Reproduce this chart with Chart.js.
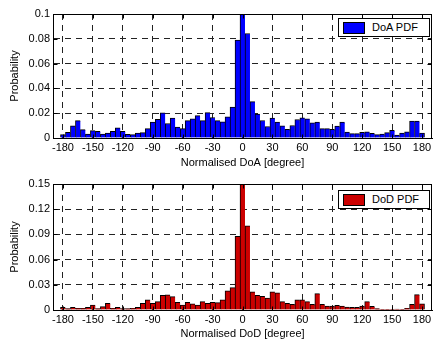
<!DOCTYPE html>
<html>
<head>
<meta charset="utf-8">
<script src="https://cdn.jsdelivr.net/npm/chart.js@4.4.0/dist/chart.umd.min.js"></script>
<style>
  html, body { margin: 0; padding: 0; background: #fff; }
  #wrap { position: relative; width: 437px; height: 341px; font-family: "Liberation Sans", Arial, sans-serif; }
  canvas { position: absolute; left: 0; }
  .legend { position: absolute; box-sizing: border-box; width: 92px; height: 19px; border: 1px solid #000; background: #fff; }
  .legend .swatch { position: absolute; left: 4px; top: 3px; width: 22px; height: 12px; box-sizing: border-box; border: 1px solid #000; }
  .legend .text { position: absolute; left: 33px; top: 0; line-height: 17px; font-size: 11px; color: #000; white-space: nowrap; }
</style>
</head>
<body>
<div id="wrap">
  <canvas id="doaChart" width="437" height="170" style="top:0px"></canvas>
  <canvas id="dodChart" width="437" height="171" style="top:170px"></canvas>
</div>
<script>
// bin centres (degree)
const degrees = [
  -180, -175, -170, -165, -160, -155, -150, -145, -140, -135, -130, -125,
  -120, -115, -110, -105, -100, -95, -90, -85, -80, -75, -70, -65,
  -60, -55, -50, -45, -40, -35, -30, -25, -20, -15, -10, -5,
  0, 5, 10, 15, 20, 25, 30, 35, 40, 45, 50, 55,
  60, 65, 70, 75, 80, 85, 90, 95, 100, 105, 110, 115,
  120, 125, 130, 135, 140, 145, 150, 155, 160, 165, 170, 175, 180
];

// DoA probability per bin
const doaPdf = [
  0.0027, 0.0045, 0.0099, 0.0140, 0.0067, 0.0032, 0.0060, 0.0053, 0.0032, 0.0040, 0.0053, 0.0083,
  0.0053, 0.0030, 0.0027, 0.0040, 0.0043, 0.0075, 0.0128, 0.0150, 0.0203, 0.0117, 0.0160, 0.0088,
  0.0075, 0.0140, 0.0155, 0.0180, 0.0140, 0.0205, 0.0165, 0.0140, 0.0130, 0.0170, 0.0250, 0.0790,
  0.1000, 0.0843, 0.0293, 0.0192, 0.0141, 0.0093, 0.0160, 0.0128, 0.0099, 0.0069, 0.0101, 0.0149,
  0.0163, 0.0155, 0.0123, 0.0128, 0.0075, 0.0075, 0.0069, 0.0096, 0.0128, 0.0048, 0.0035, 0.0035,
  0.0045, 0.0050, 0.0037, 0.0027, 0.0032, 0.0043, 0.0061, 0.0024, 0.0040, 0.0050, 0.0136, 0.0136, 0.0040
];

// DoD probability per bin
const dodPdf = [
  0.0032, 0.0016, 0.0032, 0.0020, 0.0020, 0.0032, 0.0060, 0.0016, 0.0040, 0.0080, 0.0020, 0.0032,
  0.0016, 0.0016, 0.0020, 0.0032, 0.0080, 0.0120, 0.0080, 0.0100, 0.0175, 0.0180, 0.0160, 0.0092,
  0.0060, 0.0092, 0.0072, 0.0060, 0.0100, 0.0080, 0.0092, 0.0088, 0.0120, 0.0227, 0.0267, 0.0876,
  0.1500, 0.1003, 0.0215, 0.0175, 0.0163, 0.0143, 0.0215, 0.0203, 0.0100, 0.0080, 0.0068, 0.0120,
  0.0120, 0.0100, 0.0068, 0.0195, 0.0068, 0.0048, 0.0048, 0.0056, 0.0048, 0.0036, 0.0032, 0.0032,
  0.0048, 0.0100, 0.0044, 0.0016, 0.0004, 0.0004, 0.0004, 0.0012, 0.0004, 0.0020, 0.0068, 0.0183, 0.0072
];

// axis ticks
const xTicks = [-180, -150, -120, -90, -60, -30, 0, 30, 60, 90, 120, 150, 180];
const doaYTicks = [0, 0.02, 0.04, 0.06, 0.08, 0.1];
const doaYLabels = ["0", "0.02", "0.04", "0.06", "0.08", "0.1"];
const dodYTicks = [0, 0.03, 0.06, 0.09, 0.12, 0.15];
const dodYLabels = ["0", "0.03", "0.06", "0.09", "0.12", "0.15"];

const fontFamily = '"Liberation Sans", Arial, sans-serif';

// solid box round the plot area plus inward tick marks (matlab style)
const boxPlugin = {
  id: "axesBox",
  afterDatasetsDraw(chart) {
    let a = chart.chartArea;
    let c = chart.ctx;
    let left = Math.round(a.left) + 0.5;
    let right = Math.round(a.right) - 0.5;
    let top = Math.round(a.top) + 0.5;
    let bottom = Math.round(a.bottom) + 0.5;
    c.save();
    c.strokeStyle = "#000";
    c.lineWidth = 1;
    c.strokeRect(left, top, right - left, bottom - top);
    c.beginPath();
    chart.scales.x.ticks.forEach((t) => {
      let px = Math.round(chart.scales.x.getPixelForValue(t.value)) + 0.5;
      c.moveTo(px, top); c.lineTo(px, top + 4);
      c.moveTo(px, bottom); c.lineTo(px, bottom - 4);
    });
    chart.scales.y.ticks.forEach((t) => {
      let py = Math.round(chart.scales.y.getPixelForValue(t.value)) + 0.5;
      c.moveTo(left, py); c.lineTo(left + 4, py);
      c.moveTo(right, py); c.lineTo(right - 4, py);
    });
    c.stroke();
    c.restore();
  }
};

function makeChart(canvasId, values, color, label, yTicks, yLabels, xTitle, xAxisHeight, legendTop) {
  let ctx = document.getElementById(canvasId).getContext("2d");
  let points = degrees.map((d, i) => ({ x: d, y: values[i] }));

  let chart = new Chart(ctx, {
    type: "bar",
    data: {
      datasets: [{
        label: label,
        data: points,
        backgroundColor: color,
        borderColor: "#000",
        borderWidth: (c) => ({ left: 1, top: 1, right: c.dataIndex === degrees.length - 1 ? 1 : 0, bottom: 0 }),
        borderSkipped: false,
        barPercentage: 1,
        categoryPercentage: 1
      }]
    },
    options: {
      responsive: false,
      animation: false,
      devicePixelRatio: 1,
      layout: { padding: { left: 0, top: 14, right: 5, bottom: 0 } },
      plugins: { legend: { display: false }, tooltip: { enabled: false } },
      scales: {
        x: {
          type: "linear",
          min: -190,
          max: 190,
          offset: false,
          grid: { offset: false, color: "#222", drawTicks: false },
          border: { color: "#000", dash: [6, 5] },
          ticks: { color: "#000", padding: 3, maxRotation: 0, font: { family: fontFamily, size: 11 } },
          afterBuildTicks: (s) => { s.ticks = xTicks.map((v) => ({ value: v })); },
          afterFit: (s) => { s.height = xAxisHeight; },
          title: { display: true, text: xTitle, color: "#000", padding: { top: 0, bottom: 0 }, font: { family: fontFamily, size: 11 } }
        },
        y: {
          min: yTicks[0],
          max: yTicks[yTicks.length - 1],
          grid: { color: "#222", drawTicks: false },
          border: { color: "#000", dash: [6, 5] },
          ticks: {
            color: "#000",
            padding: 3,
            font: { family: fontFamily, size: 11 },
            callback: (v) => { let i = yTicks.indexOf(v); return i >= 0 ? yLabels[i] : ""; }
          },
          afterBuildTicks: (s) => { s.ticks = yTicks.map((v) => ({ value: v })); },
          afterFit: (s) => { s.width = 53; },
          title: { display: true, text: "Probability", color: "#000", padding: { top: 8, bottom: 0 }, font: { family: fontFamily, size: 11 } }
        }
      }
    },
    plugins: [boxPlugin]
  });

  // legend box in the top right corner of the axes
  let canvas = document.getElementById(canvasId);
  let area = chart.chartArea;
  let box = document.createElement("div");
  box.className = "legend";
  box.style.left = (area.right - 2 - 92) + "px";
  box.style.top = (canvas.offsetTop + area.top + legendTop) + "px";
  let swatch = document.createElement("div");
  swatch.className = "swatch";
  swatch.style.background = color;
  let text = document.createElement("div");
  text.className = "text";
  text.innerText = chart.data.datasets[0].label;
  box.appendChild(swatch);
  box.appendChild(text);
  document.getElementById("wrap").appendChild(box);
  return chart;
}

makeChart("doaChart", doaPdf, "#0000ff", "DoA PDF", doaYTicks, doaYLabels, "Normalised DoA [degree]", 32, 4);
makeChart("dodChart", dodPdf, "#cc0000", "DoD PDF", dodYTicks, dodYLabels, "Normalised DoD [degree]", 31, 6);
</script>
</body>
</html>
